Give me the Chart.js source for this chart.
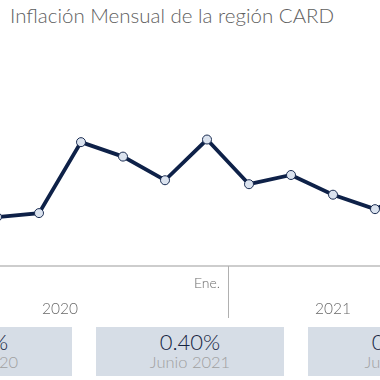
<!DOCTYPE html>
<html>
<head>
<meta charset="utf-8">
<script src="https://cdn.jsdelivr.net/npm/chart.js@4/dist/chart.umd.min.js"></script>
<style>
  html, body { margin:0; padding:0; background:#fff; width:380px; height:380px; overflow:hidden; position:relative; }
  #title { position:absolute; left:10px; top:3px; font-family:"Lato","Open Sans",sans-serif; font-weight:300; font-size:20.5px; color:#606060; white-space:nowrap; }
  #wrap { position:absolute; left:-45px; top:0; width:500px; height:325px; }
  .card { position:absolute; top:327px; height:49px; width:188px; background:#d6dde6; text-align:center; font-family:"Lato","Open Sans",sans-serif; }
  .card .v { position:absolute; left:0; right:0; top:1px; font-size:22px; color:#15243f; font-weight:300; }
  .card .s { position:absolute; left:0; right:0; top:25px; font-size:16.5px; color:#a0a0a0; font-weight:300; }
</style>
</head>
<body>
<div id="title">Inflación Mensual de la región CARD</div>
<div id="wrap"><canvas id="c" width="500" height="325"></canvas></div>
<div id="cards"></div>
<script>
// ---- data ----
const months = ["Ago.","Sep.","Oct.","Nov.","Dic.","Ene.","Feb.","Mar.","Abr.","May.","Jun."];
const monthYears = ["2020","2020","2020","2020","2020","2021","2021","2021","2021","2021","2021"];
const inflation = [0.19, 0.22, 0.76, 0.65, 0.47, 0.78, 0.44, 0.51, 0.36, 0.25, 0.40];
const shownMonthTicks = ["Ene."];
const years = ["2020","2021"];
const cardValues = ["0.29%","0.40%","0.52%"];
const cardLabels = ["Junio 2020","Junio 2021","Julio 2021"];

// cards
const cardLefts = [-116, 96, 308];
const cardsEl = document.getElementById('cards');
cardValues.forEach((v,i)=>{
  const d = document.createElement('div');
  d.className='card'; d.style.left = cardLefts[i]+'px';
  d.innerHTML = '<div class="v">'+v+'</div><div class="s">'+cardLabels[i]+'</div>';
  cardsEl.appendChild(d);
});

const axisPlugin = {
  id:'axisDeco',
  afterDraw(chart){
    const ctx = chart.ctx, x = chart.scales.x;
    const axisY = 266;
    ctx.save();
    ctx.strokeStyle = '#bdbdbd'; ctx.lineWidth = 1.5;
    ctx.beginPath(); ctx.moveTo(0, axisY); ctx.lineTo(chart.width, axisY); ctx.stroke();
    // year divider after January tick
    const firstNewYear = monthYears.indexOf(years[1]);
    const dx = Math.round(x.getPixelForValue(firstNewYear + 0.5)) + 0.5;
    ctx.strokeStyle = '#b0b0b0'; ctx.lineWidth = 1;
    ctx.beginPath(); ctx.moveTo(dx, axisY); ctx.lineTo(dx, 318); ctx.stroke();
    // month tick labels
    ctx.fillStyle = '#6a6a6a';
    ctx.font = '300 14px Lato, "Open Sans", sans-serif';
    ctx.textAlign = 'center'; ctx.textBaseline = 'middle';
    months.forEach((m,i)=>{
      if (shownMonthTicks.includes(m)) ctx.fillText(m, x.getPixelForValue(i), 283);
    });
    // year labels
    ctx.font = '300 15.5px Lato, "Open Sans", sans-serif';
    ctx.fillText(years[0], x.getPixelForValue(1.5), 309);
    ctx.fillText(years[1], x.getPixelForValue(8), 309);
    ctx.restore();
  }
};

new Chart(document.getElementById('c'), {
  type:'line',
  data:{ labels: months, datasets:[{
    data: inflation,
    borderColor:'#0e2148', borderWidth:3.8,
    pointRadius:4.5, pointBackgroundColor:'#dbe3ef', pointBorderColor:'#1b2d52', pointBorderWidth:1,
    tension:0, clip:false
  }]},
  options:{
    responsive:false, animation:false,
    layout:{ padding:{ left:42, right:38, top:0, bottom:83 } },
    plugins:{ legend:{display:false}, tooltip:{enabled:false}, title:{display:false} },
    scales:{
      x:{ display:false, offset:false },
      y:{ display:false, min:0, max:1.8 }
    }
  },
  plugins:[axisPlugin]
});
</script>
</body>
</html>
